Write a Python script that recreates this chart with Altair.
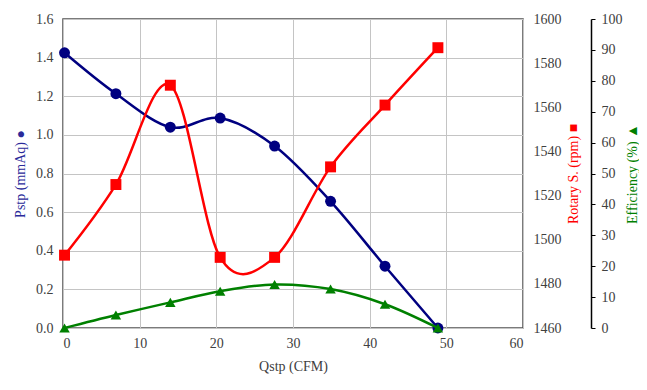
import altair as alt
import pandas as pd

# Data
qstp = [0.2, 6.9, 14.0, 20.5, 27.6, 34.9, 42.0, 48.9]
pstp = [1.425, 1.213, 1.04, 1.087, 0.942, 0.656, 0.32, 0.0]
rotary = [1493, 1525, 1570, 1492, 1492, 1533, 1561, 1587]
efficiency = [0.0, 4.2, 8.3, 11.9, 14.1, 12.6, 7.7, 0.0]

df = pd.DataFrame({"Q": qstp, "P": pstp, "R": rotary, "E": efficiency})

FONT = "Liberation Serif"
LBL = "#404040"
NAVY = "#000080"
RED = "#ff0000"
GREEN = "#008000"

common = dict(labelFont=FONT, titleFont=FONT, labelFontSize=14, titleFontSize=14,
              titleFontWeight="normal", labelColor=LBL)

x_enc = alt.X(
    "Q:Q",
    scale=alt.Scale(domain=[0, 60], nice=False, zero=False),
    axis=alt.Axis(
        title="Qstp (CFM)",
        titleColor=LBL,
        values=[0, 10, 20, 30, 40, 50, 60],
        format="d",
        grid=True,
        ticks=False,
        domain=False,
        labelPadding=8,
        titlePadding=9,
        **common,
    ),
)

p_layer = alt.Chart(df).mark_line(
    interpolate="cardinal",
    color=NAVY,
    strokeWidth=2.5,
    point=alt.OverlayMarkDef(shape="circle", size=120, filled=True, color=NAVY, opacity=1),
).encode(
    x=x_enc,
    y=alt.Y(
        "P:Q",
        scale=alt.Scale(domain=[0, 1.6], nice=False),
        axis=alt.Axis(
            title="Pstp (mmAq) ●",
            titleColor="#2a2a9a",
            values=[0, 0.2, 0.4, 0.6, 0.8, 1.0, 1.2, 1.4, 1.6],
            format=".1f",
            grid=True,
            ticks=False,
            domain=False,
            labelPadding=10,
            titlePadding=8,
            titleAngle=270,
            **common,
        ),
    ),
)

r_layer = alt.Chart(df).mark_line(
    interpolate="cardinal",
    color=RED,
    strokeWidth=2.5,
    point=alt.OverlayMarkDef(shape="square", size=120, filled=True, color=RED, opacity=1),
).encode(
    x=alt.X("Q:Q"),
    y=alt.Y(
        "R:Q",
        scale=alt.Scale(domain=[1460, 1600], nice=False, zero=False),
        axis=alt.Axis(
            orient="right",
            title="Rotary S. (rpm) ■",
            titleColor=RED,
            values=list(range(1460, 1601, 20)),
            format="d",
            grid=False,
            ticks=False,
            domain=False,
            labelPadding=10,
            titlePadding=5,
            titleAngle=270,
            titleBaseline="top",
            **common,
        ),
    ),
)

e_layer = alt.Chart(df).mark_line(
    interpolate="cardinal",
    color=GREEN,
    strokeWidth=2.5,
    point=alt.OverlayMarkDef(shape="triangle-up", size=110, filled=True, color=GREEN, opacity=1),
).encode(
    x=alt.X("Q:Q"),
    y=alt.Y(
        "E:Q",
        scale=alt.Scale(domain=[0, 100], nice=False),
        axis=alt.Axis(
            orient="right",
            offset=68,
            title="Efficiency (%) ▲",
            titleColor=GREEN,
            values=list(range(0, 101, 10)),
            format="d",
            grid=False,
            ticks=True,
            tickSize=4,
            tickColor="#000000",
            domain=True,
            domainColor="#000000",
            domainWidth=1.5,
            labelPadding=6,
            titlePadding=3,
            titleAngle=270,
            titleBaseline="top",
            **common,
        ),
    ),
)

chart = (
    alt.layer(p_layer, r_layer, e_layer)
    .resolve_scale(y="independent")
    .properties(
        width=460,
        height=309,
        autosize=alt.AutoSizeParams(type="none"),
        padding={"left": 55, "top": 11, "right": 116, "bottom": 52},
    )
    .configure_view(stroke="#505050", strokeWidth=1.5)
    .configure_axis(
        gridColor="#c4c4c4",
        gridWidth=1,
    )
)

chart.save("out.html", embed_options={"renderer": "svg", "actions": False})
